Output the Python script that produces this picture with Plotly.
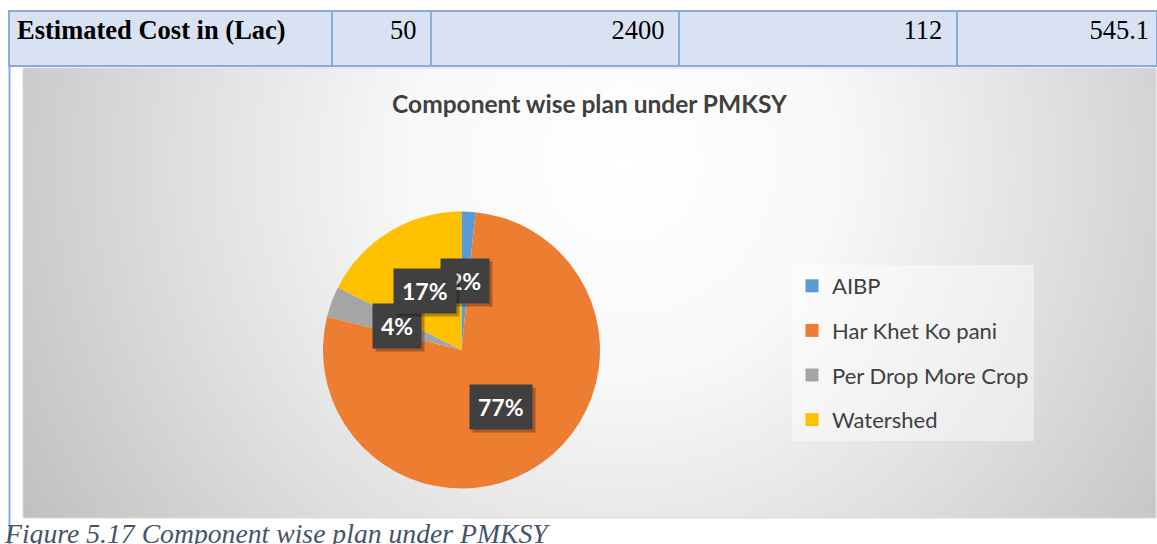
import base64
import math
import plotly.graph_objects as go

# ---------------- data ----------------
components = ["AIBP", "Har Khet Ko pani", "Per Drop More Crop", "Watershed"]
cost_lac = [50, 2400, 112, 545.1]
pct_labels = ["2%", "77%", "4%", "17%"]
row_label = "Estimated Cost in (Lac)"
chart_title = "Component wise plan under PMKSY"
caption = "Figure 5.17 Component wise plan under PMKSY"
colors = ["#5B9BD5", "#ED7D31", "#A5A5A5", "#FFC000"]

# ---------------- layout geometry (pixels) ----------------
W, H = 1157, 544


def fx(x):
    return x / W


def fy(y):
    return 1 - y / H


pie_cx, pie_cy, pie_r = 461.5, 350.0, 138.5
chart_box = (23, 68, 1156, 518)

fig = go.Figure()

# table row at top
header_text = [row_label]
for i, v in enumerate(cost_lac):
    pad = "\u00a0" if i < len(cost_lac) - 1 else ""
    header_text.append(f"{v:g}{pad}")

fig.add_trace(go.Table(
    domain=dict(x=[fx(9), 1.0], y=[fy(140), fy(11)]),
    columnwidth=[323, 99, 248, 278, 200],
    header=dict(
        values=header_text,
        height=55,
        fill_color="#D9E2F3",
        line=dict(color="#8EAADB", width=2),
        align=["left"] + ["right"] * len(cost_lac),
        font=dict(family="Liberation Serif", size=26.5, color="black",
                  weight=["bold"] + ["normal"] * len(cost_lac)),
    ),
    cells=dict(values=[[] for _ in range(len(cost_lac) + 1)]),
))

# pie
fig.add_trace(go.Pie(
    labels=components,
    values=cost_lac,
    sort=False,
    direction="clockwise",
    rotation=0,
    marker=dict(colors=colors, line=dict(width=0)),
    textinfo="none",
    showlegend=False,
    domain=dict(x=[fx(pie_cx - pie_r), fx(pie_cx + pie_r)],
                y=[fy(pie_cy + pie_r), fy(pie_cy - pie_r)]),
))

# legend entries (one group each so the spacing can be set)
for name, col in zip(components, colors):
    fig.add_trace(go.Scatter(
        x=[None], y=[None], mode="markers", name=name, legendgroup=name,
        marker=dict(symbol="square", size=13, color=col),
        hoverinfo="skip",
    ))

# data labels placed on the slice mid-angles
annotations = []
total = sum(cost_lac)
cum = 0.0
label_pos = []
for v, t in zip(cost_lac, pct_labels):
    mid = (cum + v / 2) / total
    cum += v
    th = 2 * math.pi * mid
    lx = pie_cx + 0.5 * pie_r * math.sin(th)
    ly = pie_cy - 0.5 * pie_r * math.cos(th)
    label_pos.append((lx, ly, t))

for lx, ly, t in label_pos:
    annotations.append(dict(
        x=fx(lx), y=fy(ly), xref="paper", yref="paper", showarrow=False,
        xanchor="center", yanchor="middle",
        text=f"<b>{t}</b>", xshift=3, yshift=-3,
        font=dict(family="Lato", size=23, color="rgba(0,0,0,0)"),
        bgcolor="rgba(0,0,0,0.28)", borderpad=8,
    ))
    annotations.append(dict(
        x=fx(lx), y=fy(ly), xref="paper", yref="paper", showarrow=False,
        xanchor="center", yanchor="middle",
        text=f"<b>{t}</b>",
        font=dict(family="Lato", size=23, color="white"),
        bgcolor="#404040", borderpad=8,
    ))

annotations.append(dict(
    x=fx(2), y=fy(533), xref="paper", yref="paper", showarrow=False,
    xanchor="left", yanchor="middle",
    text=f"<i>{caption}</i>",
    font=dict(family="Liberation Serif", size=27.7, color="#44546A"),
))

# radial gradient background for the chart area
bw = chart_box[2] - chart_box[0]
bh = chart_box[3] - chart_box[1]
svg = (
    f"<svg xmlns='http://www.w3.org/2000/svg' width='{bw}' height='{bh}' "
    f"viewBox='0 0 {bw} {bh}' preserveAspectRatio='none'>"
    "<defs><radialGradient id='g' gradientUnits='userSpaceOnUse' "
    "cx='600' cy='95' r='720'>"
    "<stop offset='0' stop-color='#ffffff'/>"
    "<stop offset='0.3' stop-color='#f8f8f8'/>"
    "<stop offset='0.6' stop-color='#e0e0e0'/>"
    "<stop offset='1' stop-color='#bdbdbd'/>"
    "</radialGradient></defs>"
    f"<rect x='0' y='0' width='{bw}' height='{bh}' fill='url(#g)'/></svg>"
)
src = "data:image/svg+xml;base64," + base64.b64encode(svg.encode()).decode()

fig.update_layout(
    width=W, height=H,
    margin=dict(l=0, r=0, t=0, b=0),
    paper_bgcolor="white",
    plot_bgcolor="rgba(0,0,0,0)",
    xaxis=dict(visible=False),
    yaxis=dict(visible=False),
    title=dict(
        text=f"<b>{chart_title}</b>",
        x=fx((chart_box[0] + chart_box[2]) / 2), xanchor="center",
        y=fy(104), yanchor="middle",
        font=dict(family="Lato", size=24.5, color="#404040"),
    ),
    legend=dict(
        x=fx(792), y=fy(265), xanchor="left", yanchor="top",
        bgcolor="rgba(255,255,255,0.45)",
        font=dict(family="Lato", size=22, color="#404040"),
        tracegroupgap=13,
        itemclick=False, itemdoubleclick=False,
    ),
    images=[dict(
        source=src, xref="paper", yref="paper",
        x=fx(chart_box[0]), y=fy(chart_box[1]),
        sizex=fx(chart_box[2]) - fx(chart_box[0]),
        sizey=fy(chart_box[1]) - fy(chart_box[3]),
        xanchor="left", yanchor="top", sizing="stretch", layer="below",
    )],
    shapes=[
        dict(type="rect", xref="paper", yref="paper",
             x0=fx(chart_box[0]), x1=fx(chart_box[2]),
             y0=fy(chart_box[3]), y1=fy(chart_box[1]),
             line=dict(color="#D9D9D9", width=1), layer="below"),
        dict(type="line", xref="paper", yref="paper",
             x0=fx(9.5), x1=fx(9.5), y0=fy(66), y1=0,
             line=dict(color="#8EAADB", width=2)),
    ],
    annotations=annotations,
    showlegend=True,
)

fig.write_html(
    "out.html",
    config={"displayModeBar": False},
    post_script="document.body.style.margin='0';document.body.style.overflow='hidden';",
)
